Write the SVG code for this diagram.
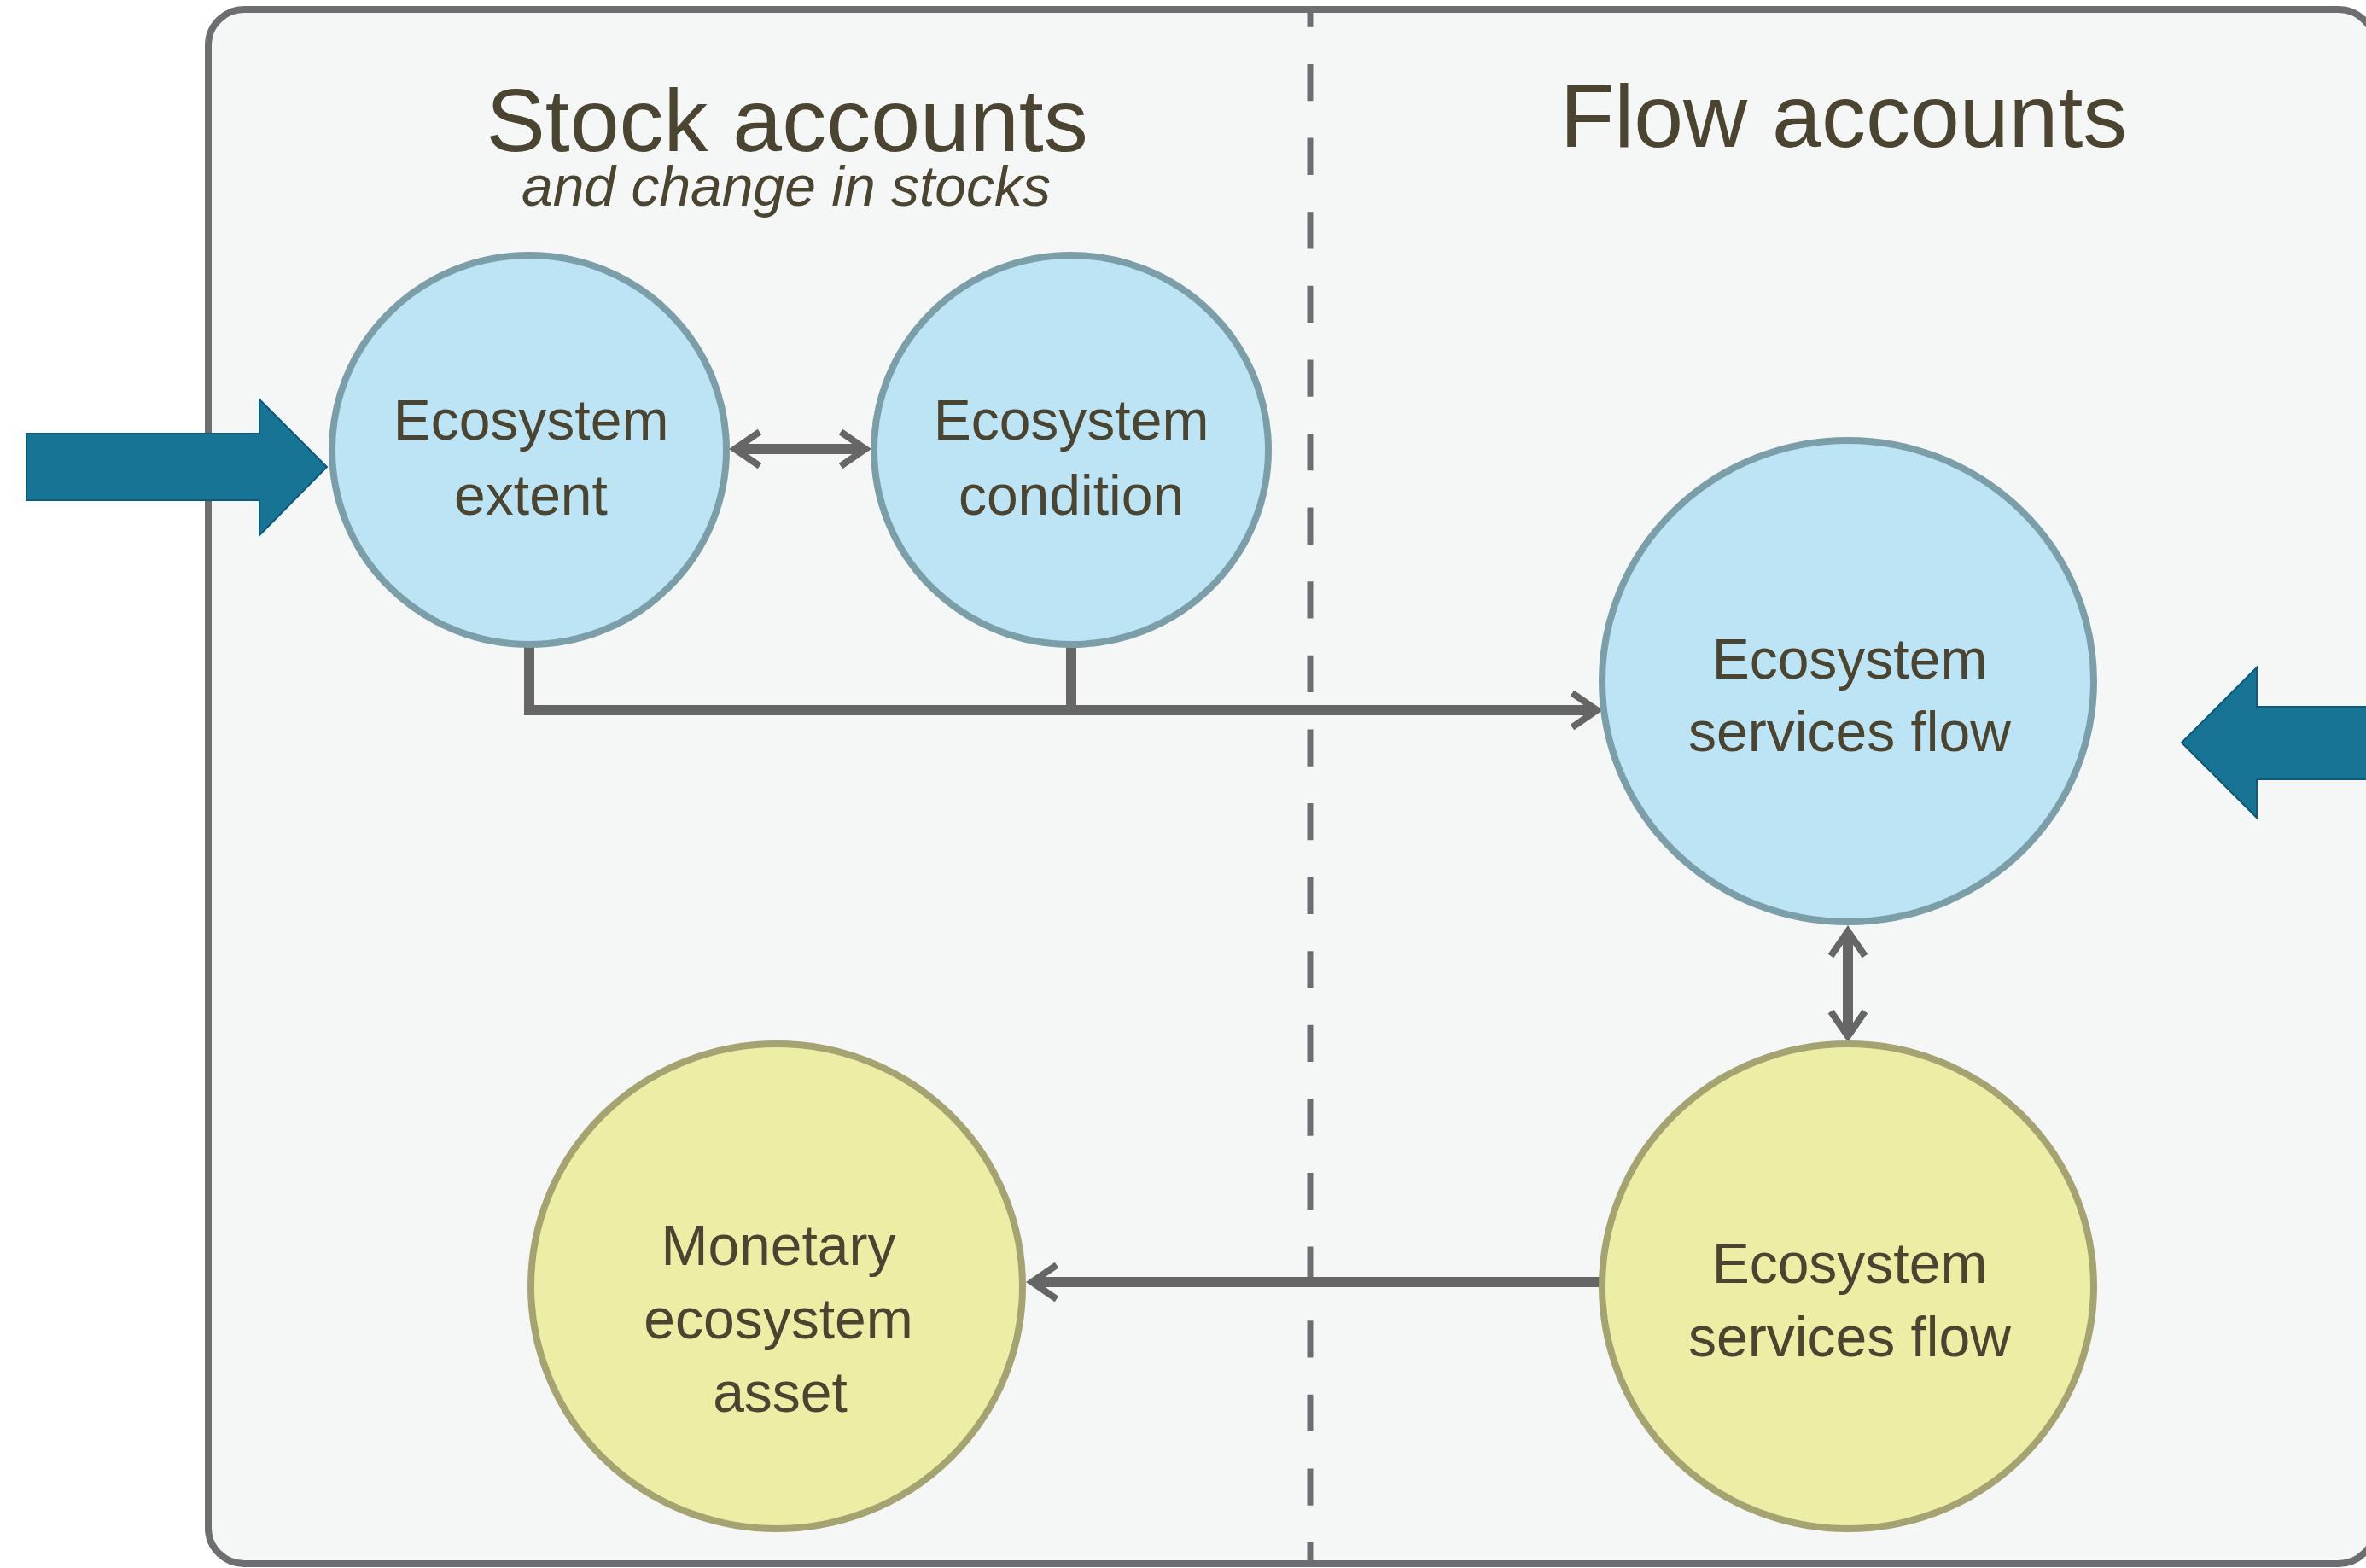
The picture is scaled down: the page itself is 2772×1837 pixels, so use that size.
<svg xmlns="http://www.w3.org/2000/svg" width="2772" height="1837" viewBox="0 0 2772 1837">
<style>
.title{font-family:"Liberation Sans",Arial,sans-serif;font-size:104px;fill:#4a4430;text-anchor:middle}
.sub{font-family:"Liberation Sans",Arial,sans-serif;font-size:66px;font-style:italic;fill:#4a4430;text-anchor:middle}
.lbl{font-family:"Liberation Sans",Arial,sans-serif;font-size:66px;fill:#4a4430;text-anchor:middle}
.blue{fill:#bde4f5;stroke:#7b9ea8;stroke-width:8}
.yellow{fill:#eceea6;stroke:#a4a371;stroke-width:8}
.conn{fill:none;stroke:#666666;stroke-width:12;stroke-linejoin:miter}
.bigarrow{fill:#177494;stroke:#0e5a78;stroke-width:2}
</style>
<defs>
<marker id="chev" markerUnits="userSpaceOnUse" markerWidth="10" markerHeight="10" refX="0" refY="0" orient="auto-start-reverse" overflow="visible">
<path d="M-27,-20 L2,0 L-27,20" fill="none" stroke="#666666" stroke-width="8"/>
</marker>
</defs>
<rect id="frame" x="244" y="11" width="2538" height="1821" rx="42" ry="42" fill="#f5f7f7" stroke="#6d6e71" stroke-width="8"/>
<line id="divider" x1="1535" y1="11" x2="1535" y2="1832" stroke="#6d6e71" stroke-width="7" stroke-dasharray="43.3 43.3" stroke-dashoffset="22.6"/>
<text class="title" x="922" y="177">Stock accounts</text>
<text class="sub" x="921" y="241">and change in stocks</text>
<text class="title" x="2160" y="172">Flow accounts</text>
<g id="connectors">
<line class="conn" x1="863" y1="526" x2="1012" y2="526" marker-start="url(#chev)" marker-end="url(#chev)"/>
<path class="conn" d="M620,758 V832 H1869" marker-end="url(#chev)"/>
<path class="conn" d="M1255,758 V832"/>
<line class="conn" x1="2165" y1="1093" x2="2165" y2="1212" marker-start="url(#chev)" marker-end="url(#chev)"/>
<line class="conn" x1="1874" y1="1502" x2="1211" y2="1502" marker-end="url(#chev)"/>
</g>
<g id="node-extent">
<ellipse class="blue" cx="620" cy="527" rx="231" ry="228"/>
<text class="lbl" x="622" y="515">Ecosystem</text>
<text class="lbl" x="622" y="603">extent</text>
</g>
<g id="node-condition">
<ellipse class="blue" cx="1255" cy="527" rx="231" ry="228"/>
<text class="lbl" x="1255" y="515">Ecosystem</text>
<text class="lbl" x="1255" y="603">condition</text>
</g>
<g id="node-esf-physical">
<ellipse class="blue" cx="2165" cy="798" rx="288" ry="282"/>
<text class="lbl" x="2167" y="795">Ecosystem</text>
<text class="lbl" x="2167" y="880">services flow</text>
</g>
<g id="node-monetary-asset">
<ellipse class="yellow" cx="910" cy="1507" rx="288" ry="284"/>
<text class="lbl" x="912" y="1482">Monetary</text>
<text class="lbl" x="912" y="1568">ecosystem</text>
<text class="lbl" x="914" y="1654">asset</text>
</g>
<g id="node-esf-monetary">
<ellipse class="yellow" cx="2165" cy="1507" rx="288" ry="284"/>
<text class="lbl" x="2167" y="1503">Ecosystem</text>
<text class="lbl" x="2167" y="1589">services flow</text>
</g>
<g id="input-left">
<polygon class="bigarrow" points="31,508 304,508 304,468 383,547 304,627 304,586 31,586"/>
</g>
<g id="input-right">
<polygon class="bigarrow" points="2800,828 2644,828 2644,782 2556,870 2644,958 2644,913 2800,913"/>
</g>
</svg>
